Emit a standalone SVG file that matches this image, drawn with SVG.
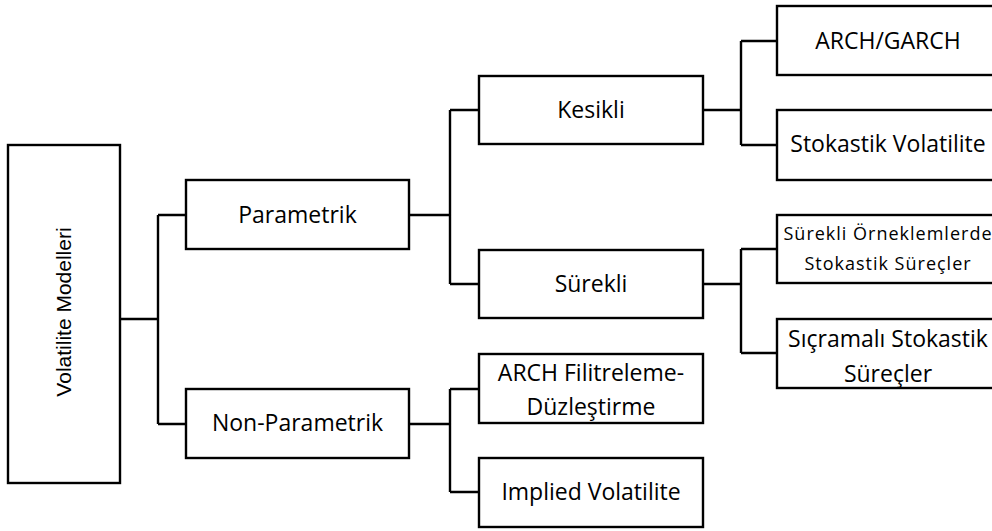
<svg xmlns="http://www.w3.org/2000/svg" width="992" height="531" viewBox="0 0 992 531">
<style>
.box{fill:#fff;stroke:#000;stroke-width:2.4}
.ln{fill:none;stroke:#000;stroke-width:2.4}
.t{font-family:"Open Sans","Liberation Sans",sans-serif;font-size:23px;fill:#000;text-anchor:middle}
.s{font-size:18px;letter-spacing:1px}
.r{font-family:"Liberation Sans",Arial,sans-serif;font-size:21px;fill:#000;text-anchor:middle}
</style>
<rect width="992" height="531" fill="#fff"/>
<g id="connectors">
<path class="ln" d="M120 319H158M158 215V424M158 215H186M158 424H186"/>
<path class="ln" d="M409 215H450M450 110V284M450 110H479M450 284H479"/>
<path class="ln" d="M409 424H450M450 389V492M450 389H479M450 492H479"/>
<path class="ln" d="M703 110H741M741 41V145M741 41H777M741 145H777"/>
<path class="ln" d="M703 284H741M741 249V353M741 249H777M741 353H777"/>
</g>
<g id="root"><rect class="box" x="8" y="145" width="112" height="338"/><text class="r" transform="translate(70.5,312) rotate(-90)">Volatilite Modelleri</text></g>
<g id="parametrik"><rect class="box" x="186" y="180" width="223" height="69"/><text class="t" x="297.5" y="223">Parametrik</text></g>
<g id="nonparametrik"><rect class="box" x="186" y="389" width="223" height="69"/><text class="t" x="297.5" y="431">Non-Parametrik</text></g>
<g id="kesikli"><rect class="box" x="479" y="76" width="224" height="68"/><text class="t" x="591" y="118">Kesikli</text></g>
<g id="surekli"><rect class="box" x="479" y="250" width="224" height="68"/><text class="t" x="591" y="292">Sürekli</text></g>
<g id="archfiltre"><rect class="box" x="479" y="354" width="224" height="69"/><text class="t" x="591" y="381">ARCH Filitreleme-</text><text class="t" x="591" y="415">Düzleştirme</text></g>
<g id="implied"><rect class="box" x="479" y="458" width="224" height="69"/><text class="t" x="591" y="500">Implied Volatilite</text></g>
<g id="archgarch"><rect class="box" x="777" y="6" width="222" height="69"/><text class="t" x="888" y="49">ARCH/GARCH</text></g>
<g id="stokvol"><rect class="box" x="777" y="110" width="222" height="70"/><text class="t" x="888" y="152">Stokastik Volatilite</text></g>
<g id="surekliorn"><rect class="box" x="777" y="215" width="222" height="68"/><text class="t s" x="888" y="240">Sürekli Örneklemlerde</text><text class="t s" x="888" y="270">Stokastik Süreçler</text></g>
<g id="sicramali"><rect class="box" x="777" y="319" width="222" height="69"/><text class="t" x="888" y="347">Sıçramalı Stokastik</text><text class="t" x="888" y="382">Süreçler</text></g>
</svg>
